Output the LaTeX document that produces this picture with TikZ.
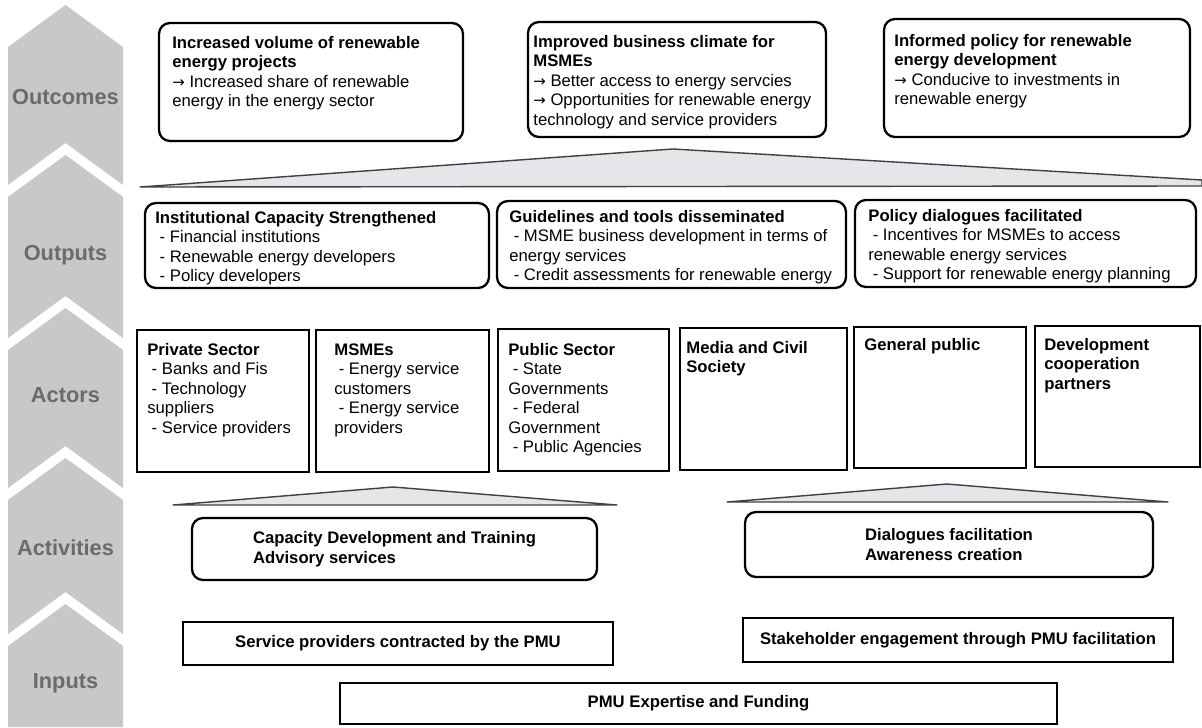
\documentclass[tikz,border=0pt]{standalone}
\usepackage{fontspec}
\setmainfont{Liberation Sans}
\newfontfamily\arrowfont{DejaVu Sans}
\usetikzlibrary{fit}

\definecolor{chevron}{HTML}{C8C8C8}
\definecolor{chevtext}{HTML}{6B6B6B}
\definecolor{fanfill}{HTML}{E6E6EA}
\newcommand{\bul}{\hspace*{2.5pt}- }
\newcommand{\arr}{{\arrowfont\fontsize{8.5}{11.1}\selectfont →}}

\begin{document}
\begin{tikzpicture}[x=0.02cm,y=-0.02cm]
	\tikzstyle{stage}=[font=\fontsize{12.4}{14}\selectfont\bfseries, text=chevtext]
	\tikzstyle{txt}=[anchor=north west, inner sep=0pt, align=left, font=\fontsize{9.5}{11.1}\selectfont]
	\tikzstyle{roundbox}=[draw, line width=1.3pt, rounded corners=0.22cm, inner sep=0pt]
	\tikzstyle{squarebox}=[draw, line width=1.3pt, inner sep=0pt]
	\tikzstyle{boldtxt}=[anchor=center, inner sep=0pt, align=left, font=\fontsize{9.5}{11.1}\selectfont\bfseries]
	\tikzstyle{fan}=[fill=fanfill, draw=black!75, line width=0.8pt, line join=round]

	\useasboundingbox (0,0) rectangle (1202,727);
	\fill[white] (0,0) rectangle (1202,727);

	% stage column
	\fill[chevron] (65.5,5) -- (123,47) -- (123,185) -- (65.5,143) -- (8,185) -- (8,47) -- cycle;
	\fill[chevron] (65.5,155) -- (123,197) -- (123,338) -- (65.5,296) -- (8,338) -- (8,197) -- cycle;
	\fill[chevron] (65.5,308) -- (123,350) -- (123,488) -- (65.5,446) -- (8,488) -- (8,350) -- cycle;
	\fill[chevron] (65.5,458) -- (123,500) -- (123,634) -- (65.5,592) -- (8,634) -- (8,500) -- cycle;
	\fill[chevron] (65.5,604) -- (123,646) -- (123,727) -- (8,727) -- (8,646) -- cycle;

	\node[stage] (outcomes) at (65.5,97) {Outcomes};
	\node[stage] (outputs) at (65.5,255) {Outputs};
	\node[stage] (actors) at (65.5,395) {Actors};
	\node[stage] (activities) at (65.5,548) {Activities};
	\node[stage] (inputs) at (65.5,683) {Inputs};

	% outcomes
	\node[txt] (volume) at (172,36) {\textbf{Increased volume of renewable}\\\textbf{energy projects}\\\arr\ Increased share of renewable\\energy in the energy sector};
	\node[roundbox, fit={(159,23) (463,141)}] (volumebox) {};
	\node[txt] (climate) at (533,35) {\textbf{Improved business climate for}\\\textbf{MSMEs}\\\arr\ Better access to energy servcies\\\arr\ Opportunities for renewable energy\\technology and service providers};
	\node[roundbox, fit={(528,22) (826,137)}] (climatebox) {};
	\node[txt] (informed) at (894,34) {\textbf{Informed policy for renewable}\\\textbf{energy development}\\\arr\ Conducive to investments in\\renewable energy};
	\node[roundbox, fit={(884,19) (1190,137)}] (informedbox) {};

	\draw[fan] (140,187) -- (673,149) -- (1202,180) -- (1202,186) -- cycle;

	% outputs
	\node[txt] (capacity) at (155,211) {\textbf{Institutional Capacity Strengthened}\\\bul Financial institutions\\\bul Renewable energy developers\\\bul Policy developers};
	\node[roundbox, fit={(145,203) (489,288)}] (capacitybox) {};
	\node[txt] (guide) at (509,210) {\textbf{Guidelines and tools disseminated}\\\bul MSME business development in terms of\\energy services\\\bul Credit assessments for renewable energy};
	\node[roundbox, fit={(497,201) (846,288)}] (guidebox) {};
	\node[txt] (dialogue) at (868,209) {\textbf{Policy dialogues facilitated}\\\bul Incentives for MSMEs to access\\renewable energy services\\\bul Support for renewable energy planning};
	\node[roundbox, fit={(855,200) (1196,287)}] (dialoguebox) {};

	% actors
	\node[txt] (private) at (147,343) {\textbf{Private Sector}\\\bul Banks and Fis\\\bul Technology\\suppliers\\\bul Service providers};
	\node[squarebox, fit={(137,330) (309,472)}] (privatebox) {};
	\node[txt] (msme) at (334,343) {\textbf{MSMEs}\\\bul Energy service\\customers\\\bul Energy service\\providers};
	\node[squarebox, fit={(316,330) (489,472)}] (msmebox) {};
	\node[txt] (public) at (508,343) {\textbf{Public Sector}\\\bul State\\Governments\\\bul Federal\\Government\\\bul Public Agencies};
	\node[squarebox, fit={(498,329) (669,471)}] (publicbox) {};
	\node[txt] (media) at (686,341) {\textbf{Media and Civil}\\\textbf{Society}};
	\node[squarebox, fit={(680,328) (847,470)}] (mediabox) {};
	\node[txt] (general) at (864,338) {\textbf{General public}};
	\node[squarebox, fit={(854,327) (1026,468)}] (generalbox) {};
	\node[txt] (partners) at (1044,338) {\textbf{Development}\\\textbf{cooperation}\\\textbf{partners}};
	\node[squarebox, fit={(1035,326) (1200,467)}] (partnersbox) {};

	\draw[fan] (173,505) -- (393,487) -- (617,505) -- cycle;
	\draw[fan] (727,502) -- (947,484) -- (1168,502) -- cycle;

	% activities
	\node[roundbox, fit={(192,518) (597,580)}] (trainingbox) {};
	\node[boldtxt] (training) at (trainingbox.center) {Capacity Development and Training\\Advisory services};
	\node[roundbox, fit={(745,512) (1153,577)}] (awarenessbox) {};
	\node[boldtxt] (awareness) at (awarenessbox.center) {Dialogues facilitation\\Awareness creation};

	% inputs
	\node[squarebox, fit={(183,622) (613,665)}] (contractedbox) {};
	\node[boldtxt] (contracted) at (contractedbox.center) {Service providers contracted by the PMU};
	\node[squarebox, fit={(743,618) (1173,662)}] (engagementbox) {};
	\node[boldtxt] (engagement) at (engagementbox.center) {Stakeholder engagement through PMU facilitation};
	\node[squarebox, fit={(340,683) (1057,724)}] (fundingbox) {};
	\node[boldtxt] (funding) at (fundingbox.center) {PMU Expertise and Funding};
\end{tikzpicture}
\end{document}
